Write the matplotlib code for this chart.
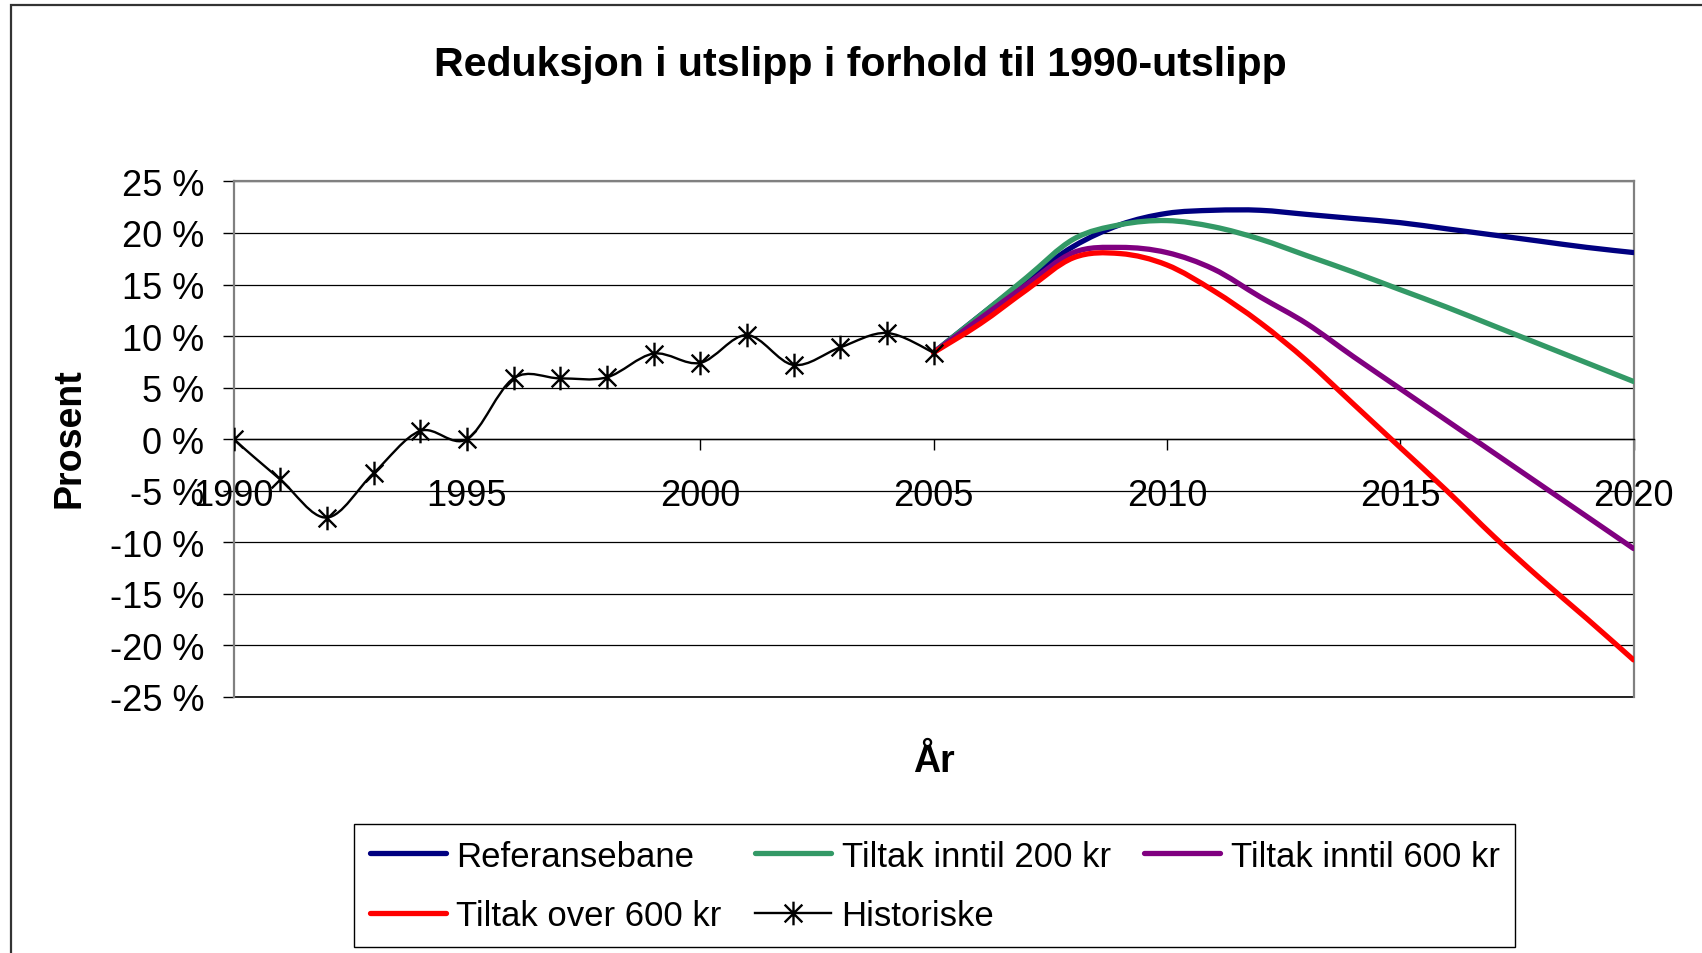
import matplotlib
matplotlib.use("Agg")
import matplotlib.pyplot as plt
from matplotlib.path import Path
from matplotlib.patches import PathPatch, Rectangle
from matplotlib.lines import Line2D

plt.rcParams.update({
    "font.family": ["Liberation Sans", "DejaVu Sans"],
})

TITLE = "Reduksjon i utslipp i forhold til 1990-utslipp"
HIST_YEARS = list(range(1990, 2006))
HIST = [0.0, -3.9, -7.6, -3.3, 0.8, 0.0, 5.9, 5.9, 6.0, 8.3, 7.4, 10.1, 7.2, 8.9, 10.3, 8.4]

FC_YEARS = list(range(2005, 2021))
REF = [8.4, 12.0, 15.5, 18.7, 20.8, 21.9, 22.2, 22.2, 21.8, 21.4, 21.0, 20.4, 19.8, 19.2, 18.6, 18.1]
T200 = [8.4, 12.0, 15.7, 19.4, 20.8, 21.2, 20.6, 19.4, 17.8, 16.2, 14.5, 12.8, 11.0, 9.2, 7.4, 5.6]
T600 = [8.4, 11.7, 15.0, 18.1, 18.6, 18.1, 16.5, 13.8, 11.2, 8.0, 4.9, 1.8, -1.3, -4.4, -7.5, -10.6]
OVER600 = [8.4, 11.2, 14.5, 17.6, 18.0, 16.9, 14.4, 11.3, 7.6, 3.4, -0.8, -5.0, -9.4, -13.5, -17.4, -21.4]

SERIES = ["Referansebane", "Tiltak inntil 200 kr", "Tiltak inntil 600 kr", "Tiltak over 600 kr"]
COLORS = ["#000080", "#339966", "#800080", "#ff0000"]
HIST_LABEL = "Historiske"

YTICKS = [25, 20, 15, 10, 5, 0, -5, -10, -15, -20, -25]
XTICKS = [1990, 1995, 2000, 2005, 2010, 2015, 2020]

W, H = 1702, 954
FS = 26

# asterisk marker like Excel's star: vertical bar plus an X
STAR = Path([(0, -1), (0, 1), (-0.75, -0.75), (0.75, 0.75), (-0.75, 0.75), (0.75, -0.75)],
            [Path.MOVETO, Path.LINETO] * 3)


def smooth_path(x, y):
    """Excel-style smoothed line as cubic bezier segments (in data coords)."""
    n = len(x)
    verts = [(x[0], y[0])]
    codes = [Path.MOVETO]
    for i in range(n - 1):
        i0, i2, i3 = max(i - 1, 0), i + 1, min(i + 2, n - 1)
        c1 = (x[i] + (x[i2] - x[i0]) / 6, y[i] + (y[i2] - y[i0]) / 6)
        c2 = (x[i2] - (x[i3] - x[i]) / 6, y[i2] - (y[i3] - y[i]) / 6)
        verts += [c1, c2, (x[i2], y[i2])]
        codes += [Path.CURVE4] * 3
    return Path(verts, codes)


fig = plt.figure(figsize=(W / 100, H / 100), dpi=100)
ax = fig.add_axes([233.5 / W, 1 - 698 / H, 1400 / W, 515.6 / H])

# outer chart border (runs off right and bottom like the source)
fig.add_artist(Rectangle((11 / W, -0.1), 1.2, 1 - 6 / H + 0.1, transform=fig.transFigure,
                         fill=False, ec="#333333", lw=1.6))

for vals, col in zip([REF, T200, T600, OVER600], COLORS):
    ax.add_patch(PathPatch(smooth_path(FC_YEARS, vals), fill=False, ec=col, lw=3.8,
                           capstyle="round", joinstyle="round", zorder=3))

ax.add_patch(PathPatch(smooth_path(HIST_YEARS, HIST), fill=False, ec="black", lw=1.7, zorder=4))
ax.plot(HIST_YEARS, HIST, ls="none", marker=STAR, ms=17, mew=1.7, mec="black", zorder=5)

ax.set_xlim(1990, 2020)
ax.set_ylim(-25, 25)
ax.set_yticks(YTICKS)
ax.set_yticklabels([f"{v} %" for v in YTICKS])
ax.set_xticks(XTICKS)
ax.set_xticklabels([str(v) for v in XTICKS])
ax.yaxis.grid(True, color="black", lw=0.9)
ax.axhline(-25, color="black", lw=1.2, clip_on=False, zorder=1)
ax.set_axisbelow(True)
ax.tick_params(axis="y", direction="out", length=8, width=1, pad=13, labelsize=FS)
ax.tick_params(axis="x", direction="out", length=8, width=1, pad=20, labelsize=FS)
for s in ["top", "right", "left"]:
    ax.spines[s].set_color("#808080")
    ax.spines[s].set_linewidth(1.6)
ax.spines["bottom"].set_position(("data", 0))
ax.spines["bottom"].set_color("black")
ax.spines["bottom"].set_linewidth(1.0)

fig.text(860 / W, 1 - 65 / H, TITLE, ha="center", va="center", fontsize=29.6, fontweight="bold")
fig.text(69 / W, 1 - 438 / H, "Prosent", rotation=90, ha="center", va="center",
         fontsize=27, fontweight="bold")
fig.text(934 / W, 1 - 762 / H, "År", ha="center", va="center", fontsize=27, fontweight="bold")

handles = [Line2D([], [], color=c, lw=3.8, solid_capstyle="round") for c in COLORS]
hist_h = Line2D([], [], color="black", lw=1.7, marker=STAR, ms=17, mew=1.7)
labels = SERIES + [HIST_LABEL]
allh = handles + [hist_h]
# matplotlib fills legend columns first; reorder so it reads row by row
order = [0, 3, 1, 4, 2]
leg = fig.legend([allh[i] for i in order], [labels[i] for i in order],
                 loc="upper left", bbox_to_anchor=(354 / W, 1 - 825 / H), ncol=3,
                 fontsize=25, frameon=True, fancybox=False, edgecolor="black", framealpha=1,
                 handlelength=2.2, handletextpad=0.3, columnspacing=0.95, borderpad=0.45,
                 labelspacing=0.75, borderaxespad=0)
leg.get_frame().set_linewidth(1.0)

fig.savefig("out.png", dpi=100)
